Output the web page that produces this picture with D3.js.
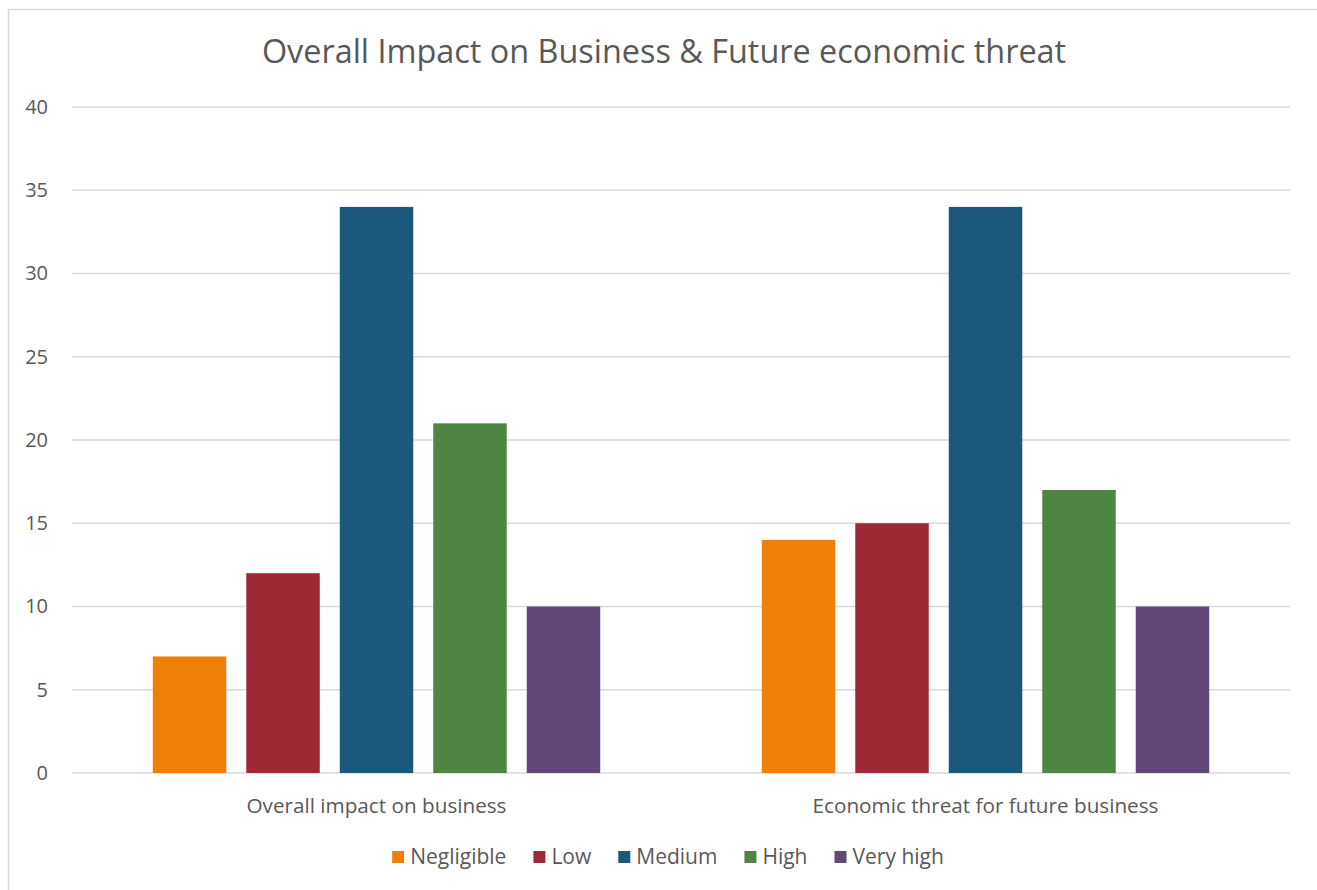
<!DOCTYPE html>
<html>
<head>
<meta charset="utf-8">
<script src="https://cdn.jsdelivr.net/npm/d3@7"></script>
<style>
  body { margin: 0; background: #fff; }
  svg text { font-family: "Open Sans", sans-serif; fill: #595959; }
</style>
</head>
<body>
<div id="chart"></div>
<script>
// Chart data
const categories = ['Overall impact on business', 'Economic threat for future business'];
const seriesNames = ['Negligible', 'Low', 'Medium', 'High', 'Very high'];
const negligible = [7, 14];
const low = [12, 15];
const medium = [34, 34];
const high = [21, 17];
const veryHigh = [10, 10];
const yTicks = [0, 5, 10, 15, 20, 25, 30, 35, 40];
const colors = ['#F07F09', '#9F2936', '#1B587C', '#4E8542', '#604878'];

const seriesValues = [negligible, low, medium, high, veryHigh];
const data = categories.map((c, i) => ({
    category: c,
    values: seriesNames.map((s, j) => ({ key: s, value: seriesValues[j][i] }))
}));

const width = 1317, height = 890;
const margin = { top: 107, right: 27, bottom: 117, left: 72 };

const svg = d3.select('#chart')
    .append('svg')
    .attr('width', width)
    .attr('height', height);

// Chart border
svg.append('rect')
    .attr('x', 8.5).attr('y', 9.5)
    .attr('width', width).attr('height', height)
    .attr('fill', '#fff')
    .attr('stroke', '#d9d9d9')
    .attr('stroke-width', 1.5);

// Scales
const x0 = d3.scaleBand()
    .domain(categories)
    .range([margin.left, width - margin.right]);

const x1 = d3.scaleBand()
    .domain(seriesNames)
    .range([0, x0.bandwidth()])
    .paddingInner(0.214)
    .paddingOuter(0.864);

const y = d3.scaleLinear()
    .domain([0, 40])
    .range([height - margin.bottom, margin.top]);

// Grid lines
svg.append('g')
    .selectAll('line')
    .data(yTicks)
    .join('line')
    .attr('x1', margin.left)
    .attr('x2', width - margin.right)
    .attr('y1', d => y(d))
    .attr('y2', d => y(d))
    .attr('stroke', '#d9d9d9')
    .attr('stroke-width', 1.5);

// Y axis labels
const yAxis = d3.axisLeft(y)
    .tickValues(yTicks)
    .tickSize(0)
    .tickPadding(24);

svg.append('g')
    .attr('transform', `translate(${margin.left},0)`)
    .call(yAxis)
    .call(g => g.select('.domain').remove())
    .call(g => g.selectAll('text')
        .style('font-size', '20px')
        .style('font-family', '"Open Sans", sans-serif')
        .attr('fill', '#595959'));

// Bars
const groups = svg.append('g')
    .selectAll('g')
    .data(data)
    .join('g')
    .attr('transform', d => `translate(${x0(d.category)},0)`);

groups.selectAll('rect')
    .data(d => d.values)
    .join('rect')
    .attr('x', d => x1(d.key))
    .attr('y', d => y(d.value))
    .attr('width', x1.bandwidth())
    .attr('height', d => y(0) - y(d.value))
    .attr('fill', (d, i) => colors[i]);

// X axis labels
const xAxis = d3.axisBottom(x0).tickSize(0).tickPadding(25);

svg.append('g')
    .attr('transform', `translate(0,${y(0)})`)
    .call(xAxis)
    .call(g => g.select('.domain').remove())
    .call(g => g.selectAll('text')
        .style('font-size', '20.7px')
        .style('font-family', '"Open Sans", sans-serif')
        .attr('fill', '#595959'));

// Title
svg.append('text')
    .attr('x', 664)
    .attr('y', 63)
    .attr('text-anchor', 'middle')
    .style('font-size', '32.4px')
    .text('Overall Impact on Business & Future economic threat');

// Legend
const legend = svg.append('g').attr('transform', 'translate(0,857)');
const items = legend.selectAll('g')
    .data(seriesNames)
    .join('g');

items.append('rect')
    .attr('width', 12)
    .attr('height', 12)
    .attr('y', -6)
    .attr('fill', (d, i) => colors[i]);

items.append('text')
    .attr('x', 18)
    .attr('dy', '0.35em')
    .style('font-size', '21px')
    .text(d => d);

let offsets = [];
let total = 0;
items.each(function(d, i) {
    const w = 18 + this.querySelector('text').getComputedTextLength();
    offsets.push(total);
    total += w + (i < seriesNames.length - 1 ? 27 : 0);
});
const startX = 668 - total / 2;
items.attr('transform', (d, i) => `translate(${startX + offsets[i]},0)`);
</script>
</body>
</html>
